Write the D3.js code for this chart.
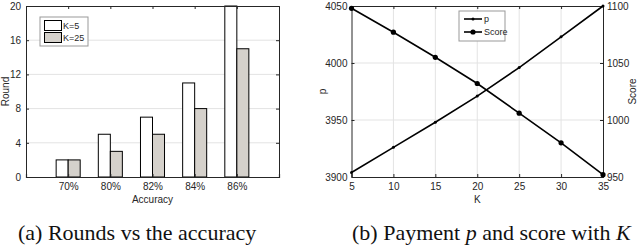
<!DOCTYPE html>
<html>
<head>
<meta charset="utf-8">
<script src="https://cdn.jsdelivr.net/npm/d3@7"></script>
<style>
  body { margin: 0; background: #fff; }
  svg { display: block; }
  .tick text { font-family: "Liberation Sans", Arial, sans-serif; font-size: 10px; fill: #262626; }
  .axis path, .axis line { stroke: #262626; }
  .lbl { font-family: "Liberation Sans", Arial, sans-serif; font-size: 10px; fill: #262626; }
  .cap { font-family: "Liberation Serif", "Times New Roman", serif; font-size: 22px; fill: #111; }
</style>
</head>
<body>
<svg id="chart"></svg>
<script>
// chart (a): rounds vs accuracy
var accuracyLabels = ["70%", "80%", "82%", "84%", "86%"];
var roundsK5 = [2, 5, 7, 11, 20];
var roundsK25 = [2, 3, 5, 8, 15];
var roundTicks = [0, 4, 8, 12, 16, 20];
var barSeries = ["K=5", "K=25"];

// chart (b): payment p and score vs K
var kValues = [5, 10, 15, 20, 25, 30, 35];
var payment = [3904, 3926, 3948, 3971, 3996, 4023, 4050];
var score = [1098, 1077, 1055, 1032, 1006, 980, 952];
var pTicks = [3900, 3950, 4000, 4050];
var scoreTicks = [950, 1000, 1050, 1100];
var lineSeries = ["p", "Score"];

var W = 640, H = 246;
var svg = d3.select("#chart").attr("width", W).attr("height", H);
svg.append("rect").attr("width", W).attr("height", H).attr("fill", "#fff");

var plotTop = 6, plotBottom = 177;
var gridColor = "#e3e3e3";

// ---------- (a) ----------
var ax = {left: 26, right: 279};
var x = d3.scaleLinear().domain([0, 6]).range([ax.left, ax.right]);
var y = d3.scaleLinear().domain([0, 20]).range([plotBottom, plotTop]);
var bw = 0.285;

var ga = svg.append("g");

ga.selectAll(".grid").data(roundTicks.slice(1, -1)).enter().append("line")
    .attr("x1", ax.left).attr("x2", ax.right)
    .attr("y1", function(d){ return y(d); }).attr("y2", function(d){ return y(d); })
    .attr("stroke", gridColor).attr("stroke-width", 1);

ga.selectAll(".b5").data(roundsK5).enter().append("rect")
    .attr("x", function(d, i){ return x(i + 1 - bw); })
    .attr("width", x(bw) - x(0))
    .attr("y", function(d){ return y(d); })
    .attr("height", function(d){ return y(0) - y(d); })
    .attr("fill", "#fff").attr("stroke", "#000").attr("stroke-width", 1);

ga.selectAll(".b25").data(roundsK25).enter().append("rect")
    .attr("x", function(d, i){ return x(i + 1); })
    .attr("width", x(bw) - x(0))
    .attr("y", function(d){ return y(d); })
    .attr("height", function(d){ return y(0) - y(d); })
    .attr("fill", "#d5d1cb").attr("stroke", "#000").attr("stroke-width", 1);

var xAxisA = d3.axisBottom(x).tickValues([1, 2, 3, 4, 5])
    .tickFormat(function(d){ return accuracyLabels[d - 1]; })
    .tickSize(-3).tickPadding(6);
ga.append("g").attr("class", "axis").attr("transform", "translate(0," + plotBottom + ")").call(xAxisA)
    .call(function(g){ g.select(".domain").attr("stroke-width", 1.2); });
ga.append("g").attr("class", "axis").attr("transform", "translate(0," + plotTop + ")")
    .call(d3.axisTop(x).tickValues([1, 2, 3, 4, 5]).tickFormat("").tickSize(-3));
ga.append("g").attr("class", "axis").attr("transform", "translate(" + ax.left + ",0)")
    .call(d3.axisLeft(y).tickValues(roundTicks).tickSize(-3).tickPadding(5));
ga.append("g").attr("class", "axis").attr("transform", "translate(" + ax.right + ",0)")
    .call(d3.axisRight(y).tickValues(roundTicks).tickFormat("").tickSize(-3));
ga.selectAll(".domain").attr("stroke", "#262626");

ga.append("text").attr("class", "lbl").attr("text-anchor", "middle")
    .attr("transform", "translate(9," + ((plotTop + plotBottom) / 2) + ") rotate(-90)").text("Round");
ga.append("text").attr("class", "lbl").attr("text-anchor", "middle")
    .attr("x", (ax.left + ax.right) / 2).attr("y", 203).text("Accuracy");

// legend (a)
var la = ga.append("g").attr("transform", "translate(40,17)");
la.append("rect").attr("width", 48).attr("height", 29).attr("fill", "#fff").attr("stroke", "#999");
barSeries.forEach(function(s, i){
  la.append("rect").attr("x", 4.5).attr("y", 3.5 + i * 12).attr("width", 17).attr("height", 10)
      .attr("fill", i ? "#d5d1cb" : "#fff").attr("stroke", "#000");
  la.append("text").attr("class", "lbl").attr("x", 23).attr("y", 12 + i * 12)
      .style("font-size", "9px").text(s);
});

ga.append("text").attr("class", "cap").attr("x", 18).attr("y", 240).text("(a) Rounds vs the accuracy");

// ---------- (b) ----------
var bx = {left: 351.5, right: 603};
var xk = d3.scaleLinear().domain([5, 35]).range([bx.left, bx.right]);
var yp = d3.scaleLinear().domain([3900, 4050]).range([plotBottom, plotTop]);
var ys = d3.scaleLinear().domain([950, 1100]).range([plotBottom, plotTop]);

var gb = svg.append("g");

gb.selectAll(".vg").data(kValues.slice(1, -1)).enter().append("line")
    .attr("x1", function(d){ return xk(d); }).attr("x2", function(d){ return xk(d); })
    .attr("y1", plotTop).attr("y2", plotBottom).attr("stroke", gridColor);
gb.selectAll(".hg").data(pTicks.slice(1, -1)).enter().append("line")
    .attr("x1", bx.left).attr("x2", bx.right)
    .attr("y1", function(d){ return yp(d); }).attr("y2", function(d){ return yp(d); })
    .attr("stroke", gridColor);

gb.append("g").attr("class", "axis").attr("transform", "translate(0," + plotBottom + ")")
    .call(d3.axisBottom(xk).tickValues(kValues).tickSize(-3).tickPadding(6));
gb.append("g").attr("class", "axis").attr("transform", "translate(0," + plotTop + ")")
    .call(d3.axisTop(xk).tickValues(kValues).tickFormat("").tickSize(-3));
gb.append("g").attr("class", "axis").attr("transform", "translate(" + bx.left + ",0)")
    .call(d3.axisLeft(yp).tickValues(pTicks).tickFormat(d3.format("d")).tickSize(-3).tickPadding(4));
gb.append("g").attr("class", "axis").attr("transform", "translate(" + bx.right + ",0)")
    .call(d3.axisRight(ys).tickValues(scoreTicks).tickFormat(d3.format("d")).tickSize(-3).tickPadding(4));

var lineP = d3.line().x(function(d, i){ return xk(kValues[i]); }).y(function(d){ return yp(d); });
var lineS = d3.line().x(function(d, i){ return xk(kValues[i]); }).y(function(d){ return ys(d); });

gb.append("path").datum(payment).attr("d", lineP).attr("fill", "none").attr("stroke", "#000").attr("stroke-width", 1.6);
gb.append("path").datum(score).attr("d", lineS).attr("fill", "none").attr("stroke", "#000").attr("stroke-width", 1.6);
gb.selectAll(".mp").data(payment).enter().append("circle")
    .attr("cx", function(d, i){ return xk(kValues[i]); }).attr("cy", function(d){ return yp(d); })
    .attr("r", 1.5).attr("fill", "#000");
gb.selectAll(".ms").data(score).enter().append("circle")
    .attr("cx", function(d, i){ return xk(kValues[i]); }).attr("cy", function(d){ return ys(d); })
    .attr("r", 2.6).attr("fill", "#000");

gb.append("text").attr("class", "lbl").attr("text-anchor", "middle")
    .attr("transform", "translate(326," + ((plotTop + plotBottom) / 2) + ") rotate(-90)").text("p");
gb.append("text").attr("class", "lbl").attr("text-anchor", "middle")
    .attr("transform", "translate(636," + ((plotTop + plotBottom) / 2) + ") rotate(-90)").text("Score");
gb.append("text").attr("class", "lbl").attr("text-anchor", "middle")
    .attr("x", (bx.left + bx.right) / 2).attr("y", 203).text("K");

// legend (b)
var lb = gb.append("g").attr("transform", "translate(459,11)");
lb.append("rect").attr("width", 46).attr("height", 30).attr("fill", "#fff").attr("stroke", "#999");
lineSeries.forEach(function(s, i){
  var yy = 8 + i * 13;
  lb.append("line").attr("x1", 5).attr("x2", 23).attr("y1", yy).attr("y2", yy)
      .attr("stroke", "#000").attr("stroke-width", 1.6);
  lb.append("circle").attr("cx", 14).attr("cy", yy).attr("r", i ? 2.6 : 1.5).attr("fill", "#000");
  lb.append("text").attr("class", "lbl").attr("x", 25).attr("y", yy + 3).style("font-size", "9px").text(s);
});

var cb = gb.append("text").attr("class", "cap").attr("x", 352).attr("y", 240);
cb.append("tspan").text("(b) Payment ");
cb.append("tspan").style("font-style", "italic").text("p");
cb.append("tspan").text(" and score with ");
cb.append("tspan").style("font-style", "italic").text("K");
</script>
</body>
</html>
